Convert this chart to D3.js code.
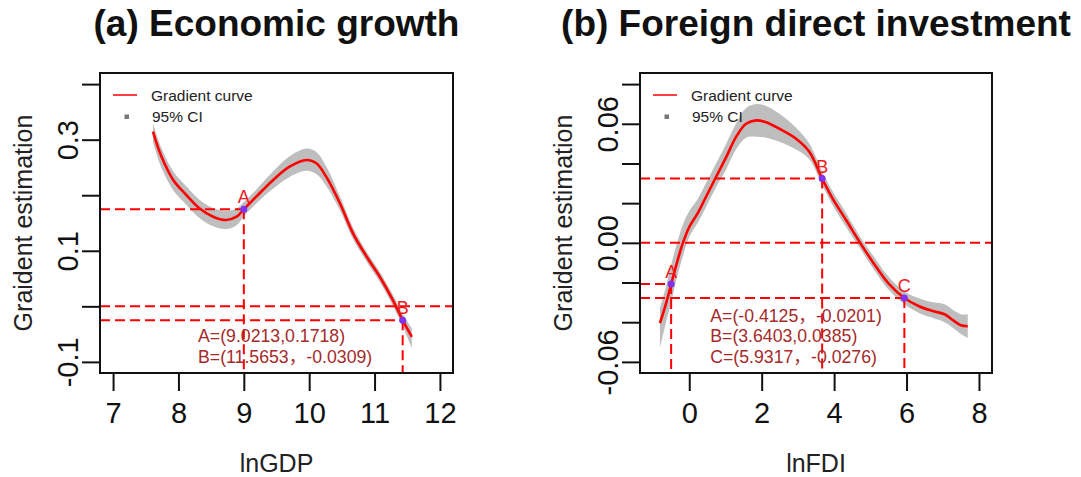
<!DOCTYPE html>
<meta charset="utf-8">
<style>
body { margin: 0; background: #fff; }
svg { font-family: "Liberation Sans", Arial, Helvetica, sans-serif; }
</style>
<svg width="1081" height="477"></svg>
<script src="https://cdn.jsdelivr.net/npm/d3@7"></script>
<script>

// ---- panel (a): economic growth ----
var gdpX   = [7.61, 7.74, 7.92, 8.12, 8.32, 8.53, 8.73, 8.89, 9.00, 9.19, 9.45, 9.70, 9.96, 10.11, 10.26, 10.47, 10.67, 10.88, 11.08, 11.28, 11.43, 11.57];
var gdpFit = [0.3145, 0.2695, 0.2275, 0.2004, 0.1765, 0.1613, 0.1554, 0.1613, 0.1747, 0.1974, 0.2275, 0.2514, 0.2635, 0.2576, 0.2334, 0.1855, 0.1314, 0.0892, 0.0532, 0.0112, -0.0249, -0.055];
var gdpHi  = [0.330, 0.285, 0.243, 0.216, 0.192, 0.177, 0.172, 0.176, 0.188, 0.210, 0.243, 0.270, 0.284, 0.278, 0.252, 0.198, 0.142, 0.098, 0.062, 0.021, -0.013, -0.040];
var gdpLo  = [0.296, 0.250, 0.209, 0.183, 0.159, 0.144, 0.139, 0.146, 0.162, 0.185, 0.212, 0.233, 0.244, 0.238, 0.217, 0.173, 0.121, 0.080, 0.044, 0.001, -0.036, -0.075];
var gdpMarks = ["A", "B"];
var gdpMarkX = [9.00, 11.43];
var gdpMarkY = [0.1747, -0.0249];
var gdpNotes = ["A=(9.0213,0.1718)", "B=(11.5653，-0.0309)"];
var gdpXTicks = [7, 8, 9, 10, 11, 12];
var gdpYTicks = [-0.1, 0, 0.1, 0.2, 0.3, 0.4];
var gdpYLabels = {"-0.1": "-0.1", "0.1": "0.1", "0.3": "0.3"};

// ---- panel (b): foreign direct investment ----
var fdiX   = [-0.81, -0.64, -0.50, -0.32, -0.18, 0.00, 0.23, 0.46, 0.74, 1.02, 1.29, 1.57, 1.85, 2.12, 2.49, 2.95, 3.32, 3.67, 3.96, 4.33, 4.72, 5.10, 5.50, 5.94, 6.36, 6.75, 7.05, 7.30, 7.50, 7.69];
var fdiFit = [-0.0405, -0.0305, -0.0208, -0.0087, -0.0003, 0.0080, 0.0148, 0.0231, 0.0332, 0.0432, 0.0533, 0.0600, 0.0617, 0.0608, 0.0575, 0.0525, 0.0458, 0.0324, 0.0223, 0.0115, 0.0000, -0.0105, -0.0204, -0.0278, -0.0321, -0.0345, -0.0360, -0.0392, -0.0415, -0.0420];
var fdiHi  = [-0.033, -0.022, -0.011, 0.001, 0.009, 0.016, 0.022, 0.030, 0.040, 0.050, 0.060, 0.068, 0.070, 0.069, 0.065, 0.058, 0.050, 0.036, 0.026, 0.015, 0.003, -0.007, -0.017, -0.0245, -0.028, -0.030, -0.031, -0.034, -0.036, -0.036];
var fdiLo  = [-0.053, -0.040, -0.030, -0.016, -0.007, 0.003, 0.010, 0.018, 0.028, 0.037, 0.047, 0.053, 0.0535, 0.053, 0.051, 0.047, 0.042, 0.029, 0.019, 0.008, -0.003, -0.0135, -0.0235, -0.031, -0.0355, -0.038, -0.040, -0.043, -0.046, -0.048];
var fdiMarks = ["A", "B", "C"];
var fdiMarkX = [-0.50, 3.67, 5.94];
var fdiMarkY = [-0.0208, 0.0324, -0.0278];
var fdiNotes = ["A=(-0.4125，-0.0201)", "B=(3.6403,0.0385)", "C=(5.9317，-0.0276)"];
var fdiXTicks = [0, 2, 4, 6, 8];
var fdiYTicks = [-0.06, -0.04, -0.02, 0, 0.02, 0.04, 0.06, 0.08];
var fdiYLabels = {"-0.06": "-0.06", "0": "0.00", "0.06": "0.06"};

var svg = d3.select("svg");

var panels = [
  { title: "(a) Economic growth", xlab: "lnGDP", left: 100, right: 453,
    xdom: [6.8, 12.2], ydom: [-0.12, 0.42],
    xs: gdpX, fit: gdpFit, hi: gdpHi, lo: gdpLo,
    marks: gdpMarks, mx: gdpMarkX, my: gdpMarkY, notes: gdpNotes,
    noteX: 8.3, noteY: -0.064, noteStep: 21,
    xticks: gdpXTicks, yticks: gdpYTicks, ylabels: gdpYLabels },
  { title: "(b) Foreign direct investment", xlab: "lnFDI", left: 640, right: 992,
    xdom: [-1.36, 8.36], ydom: [-0.0656, 0.0856],
    xs: fdiX, fit: fdiFit, hi: fdiHi, lo: fdiLo,
    marks: fdiMarks, mx: fdiMarkX, my: fdiMarkY, notes: fdiNotes,
    noteX: 0.58, noteY: -0.0397, noteStep: 20.5,
    xticks: fdiXTicks, yticks: fdiYTicks, ylabels: fdiYLabels }
];

var plotTop = 73, plotBottom = 373;

panels.forEach(drawPanel);

function drawPanel(p) {
  var x = d3.scaleLinear().domain(p.xdom).range([p.left, p.right]);
  var y = d3.scaleLinear().domain(p.ydom).range([plotBottom, plotTop]);
  var g = svg.append("g");
  var pts = p.xs.map(function(v, i) { return {x: v, fit: p.fit[i], hi: p.hi[i], lo: p.lo[i]}; });

  // confidence band
  g.append("path")
      .datum(pts)
      .attr("fill", "#bebebe")
      .attr("d", d3.area()
        .curve(d3.curveCatmullRom)
        .x(function(d) { return x(d.x); })
        .y0(function(d) { return y(d.lo); })
        .y1(function(d) { return y(d.hi); }));

  // gradient curve
  g.append("path")
      .datum(pts)
      .attr("fill", "none")
      .attr("stroke", "#ff0000")
      .attr("stroke-width", 2.6)
      .attr("d", d3.line()
        .curve(d3.curveCatmullRom)
        .x(function(d) { return x(d.x); })
        .y(function(d) { return y(d.fit); }));

  // reference lines
  var dash = "10,5";
  g.append("line")
      .attr("x1", p.left).attr("x2", p.right)
      .attr("y1", y(0)).attr("y2", y(0))
      .attr("stroke", "#ff0000").attr("stroke-width", 2).attr("stroke-dasharray", dash);

  p.marks.forEach(function(m, i) {
    g.append("line")
        .attr("x1", p.left).attr("x2", x(p.mx[i]))
        .attr("y1", y(p.my[i])).attr("y2", y(p.my[i]))
        .attr("stroke", "#ff0000").attr("stroke-width", 2).attr("stroke-dasharray", dash);
    g.append("line")
        .attr("x1", x(p.mx[i])).attr("x2", x(p.mx[i]))
        .attr("y1", y(p.my[i])).attr("y2", plotBottom)
        .attr("stroke", "#ff0000").attr("stroke-width", 2).attr("stroke-dasharray", dash);
  });

  p.marks.forEach(function(m, i) {
    g.append("circle")
        .attr("cx", x(p.mx[i])).attr("cy", y(p.my[i])).attr("r", 3.5)
        .attr("fill", "#8033ee");
    g.append("text")
        .attr("x", x(p.mx[i])).attr("y", y(p.my[i]) - 6)
        .attr("text-anchor", "middle")
        .attr("font-size", 18)
        .attr("fill", "#ee1c1c")
        .text(m);
  });

  // coordinate notes
  p.notes.forEach(function(t, i) {
    g.append("text")
        .attr("x", x(p.noteX))
        .attr("y", y(p.noteY) + i * p.noteStep)
        .attr("font-size", 17.7)
        .attr("fill", "#a52a2a")
        .attr("font-family", "'Liberation Sans', Arial, 'Noto Sans CJK SC', sans-serif")
        .text(t);
  });

  // legend
  g.append("line")
      .attr("x1", p.left + 13).attr("x2", p.left + 37)
      .attr("y1", 95).attr("y2", 95)
      .attr("stroke", "#ff0000").attr("stroke-width", 1.5);
  g.append("rect")
      .attr("x", p.left + 24.5).attr("y", 114.5).attr("width", 4.5).attr("height", 4.5)
      .attr("fill", "#777");
  g.append("text").attr("x", p.left + 51).attr("y", 100.5)
      .attr("font-size", 15.5).attr("fill", "#222").text("Gradient curve");
  g.append("text").attr("x", p.left + 52).attr("y", 122)
      .attr("font-size", 15.5).attr("fill", "#222").text("95% CI");

  // box
  g.append("rect")
      .attr("x", p.left).attr("y", plotTop)
      .attr("width", p.right - p.left).attr("height", plotBottom - plotTop)
      .attr("fill", "none").attr("stroke", "#111").attr("stroke-width", 2);

  // axes
  var xa = g.append("g")
      .attr("transform", "translate(0," + plotBottom + ")")
      .call(d3.axisBottom(x).tickValues(p.xticks).tickSize(18).tickSizeOuter(0).tickPadding(11)
        .tickFormat(d3.format("d")));
  xa.select(".domain").remove();
  xa.selectAll("line").attr("stroke", "#111").attr("stroke-width", 2);
  xa.selectAll("text").attr("font-size", 29).attr("fill", "#111")
      .attr("font-family", "'Liberation Sans', Arial, sans-serif");

  var ya = g.append("g")
      .attr("transform", "translate(" + p.left + ",0)")
      .call(d3.axisLeft(y).tickValues(p.yticks).tickSize(18).tickSizeOuter(0)
        .tickFormat(function(d) { var k = String(+d.toFixed(2)); return p.ylabels[k] || ""; }));
  ya.select(".domain").remove();
  ya.selectAll("line").attr("stroke", "#111").attr("stroke-width", 2);
  ya.selectAll("text")
      .attr("x", null).attr("dy", null).attr("y", null)
      .attr("transform", "translate(-22,0) rotate(-90)")
      .attr("text-anchor", "middle")
      .attr("font-size", 29).attr("fill", "#111")
      .attr("font-family", "'Liberation Sans', Arial, sans-serif");

  // titles
  var cx = (p.left + p.right) / 2;
  svg.append("text")
      .attr("x", cx).attr("y", 36)
      .attr("text-anchor", "middle")
      .attr("font-size", 37).attr("font-weight", "bold").attr("fill", "#111")
      .text(p.title);
  svg.append("text")
      .attr("x", cx).attr("y", 472)
      .attr("text-anchor", "middle")
      .attr("font-size", 25).attr("fill", "#222")
      .text(p.xlab);
  svg.append("text")
      .attr("transform", "translate(" + (p.left - 68) + "," + ((plotTop + plotBottom) / 2) + ") rotate(-90)")
      .attr("text-anchor", "middle")
      .attr("font-size", 25).attr("fill", "#222")
      .text("Graident estimation");
}

</script>
